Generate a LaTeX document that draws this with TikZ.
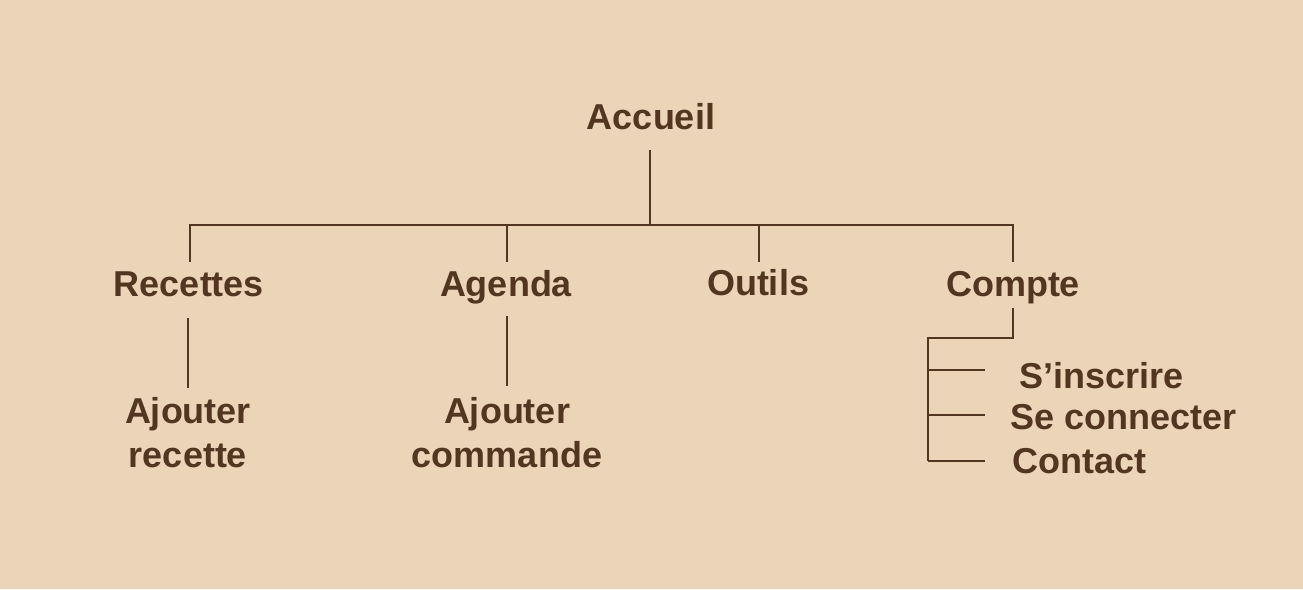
\documentclass[tikz,border=0pt]{standalone}
\usepackage{fontspec}
\setmainfont{Liberation Sans}
\definecolor{bg}{RGB}{236,212,185}
\definecolor{ink}{RGB}{82,54,33}
\begin{document}
\begin{tikzpicture}[x=1pt,y=-1pt,
  lbl/.style={text=ink,font=\fontsize{36}{44}\selectfont\bfseries,anchor=base,inner sep=0pt,align=center},
  lbll/.style={lbl,anchor=base west},
  link/.style={draw=ink,line width=2.2pt}]
\fill[bg] (0,0) rectangle (1303,589);
\useasboundingbox (0,0) rectangle (1303,589);
% nodes
\node[lbl] (accueil) at (651,129) {Accueil};
\node[lbl] (recettes) at (189,296) {Recettes};
\node[lbl] (agenda) at (506,296) {Agenda};
\node[lbl] (outils) at (758,295) {Outils};
\node[lbl] (compte) at (1013,296) {Compte};
\node[lbl] (ajrec) at (188,467) {Ajouter\\recette};
\node[lbl] (ajcom) at (507,467) {Ajouter\\commande};
\node[lbll] (inscr) at (1019,388) {S’inscrire};
\node[lbll] (conn) at (1010,429) {Se connecter};
\node[lbll] (cont) at (1012,473) {Contact};
% coordinates
\coordinate (a1) at (650,150);
\coordinate (a2) at (650,225);
\coordinate (hl) at (190,225);
\coordinate (hr) at (1013,225);
\coordinate (d1) at (190,262);
\coordinate (d2t) at (507,225);
\coordinate (d2) at (507,262);
\coordinate (d3t) at (759,225);
\coordinate (d3) at (759,262);
\coordinate (d4) at (1013,262);
\coordinate (r1) at (188,318);
\coordinate (r2) at (188,388);
\coordinate (g1) at (507,316);
\coordinate (g2) at (507,386);
\coordinate (c1) at (1013,308);
\coordinate (c2) at (928,338);
\coordinate (b1) at (928,370);
\coordinate (b2) at (928,415);
\coordinate (b3) at (928,461);
\coordinate (e1) at (985,370);
\coordinate (e2) at (985,415);
\coordinate (e3) at (985,461);
% connectors
\draw[link] (a1) -- (a2);
\draw[link] (d1) -- (hl) -- (hr) -- (d4);
\draw[link] (d2t) -- (d2);
\draw[link] (d3t) -- (d3);
\draw[link] (r1) -- (r2);
\draw[link] (g1) -- (g2);
\draw[link] (c1) |- (c2) -- (b3);
\draw[link] (b1) -- (e1);
\draw[link] (b2) -- (e2);
\draw[link] (b3) -- (e3);
\end{tikzpicture}
\end{document}
